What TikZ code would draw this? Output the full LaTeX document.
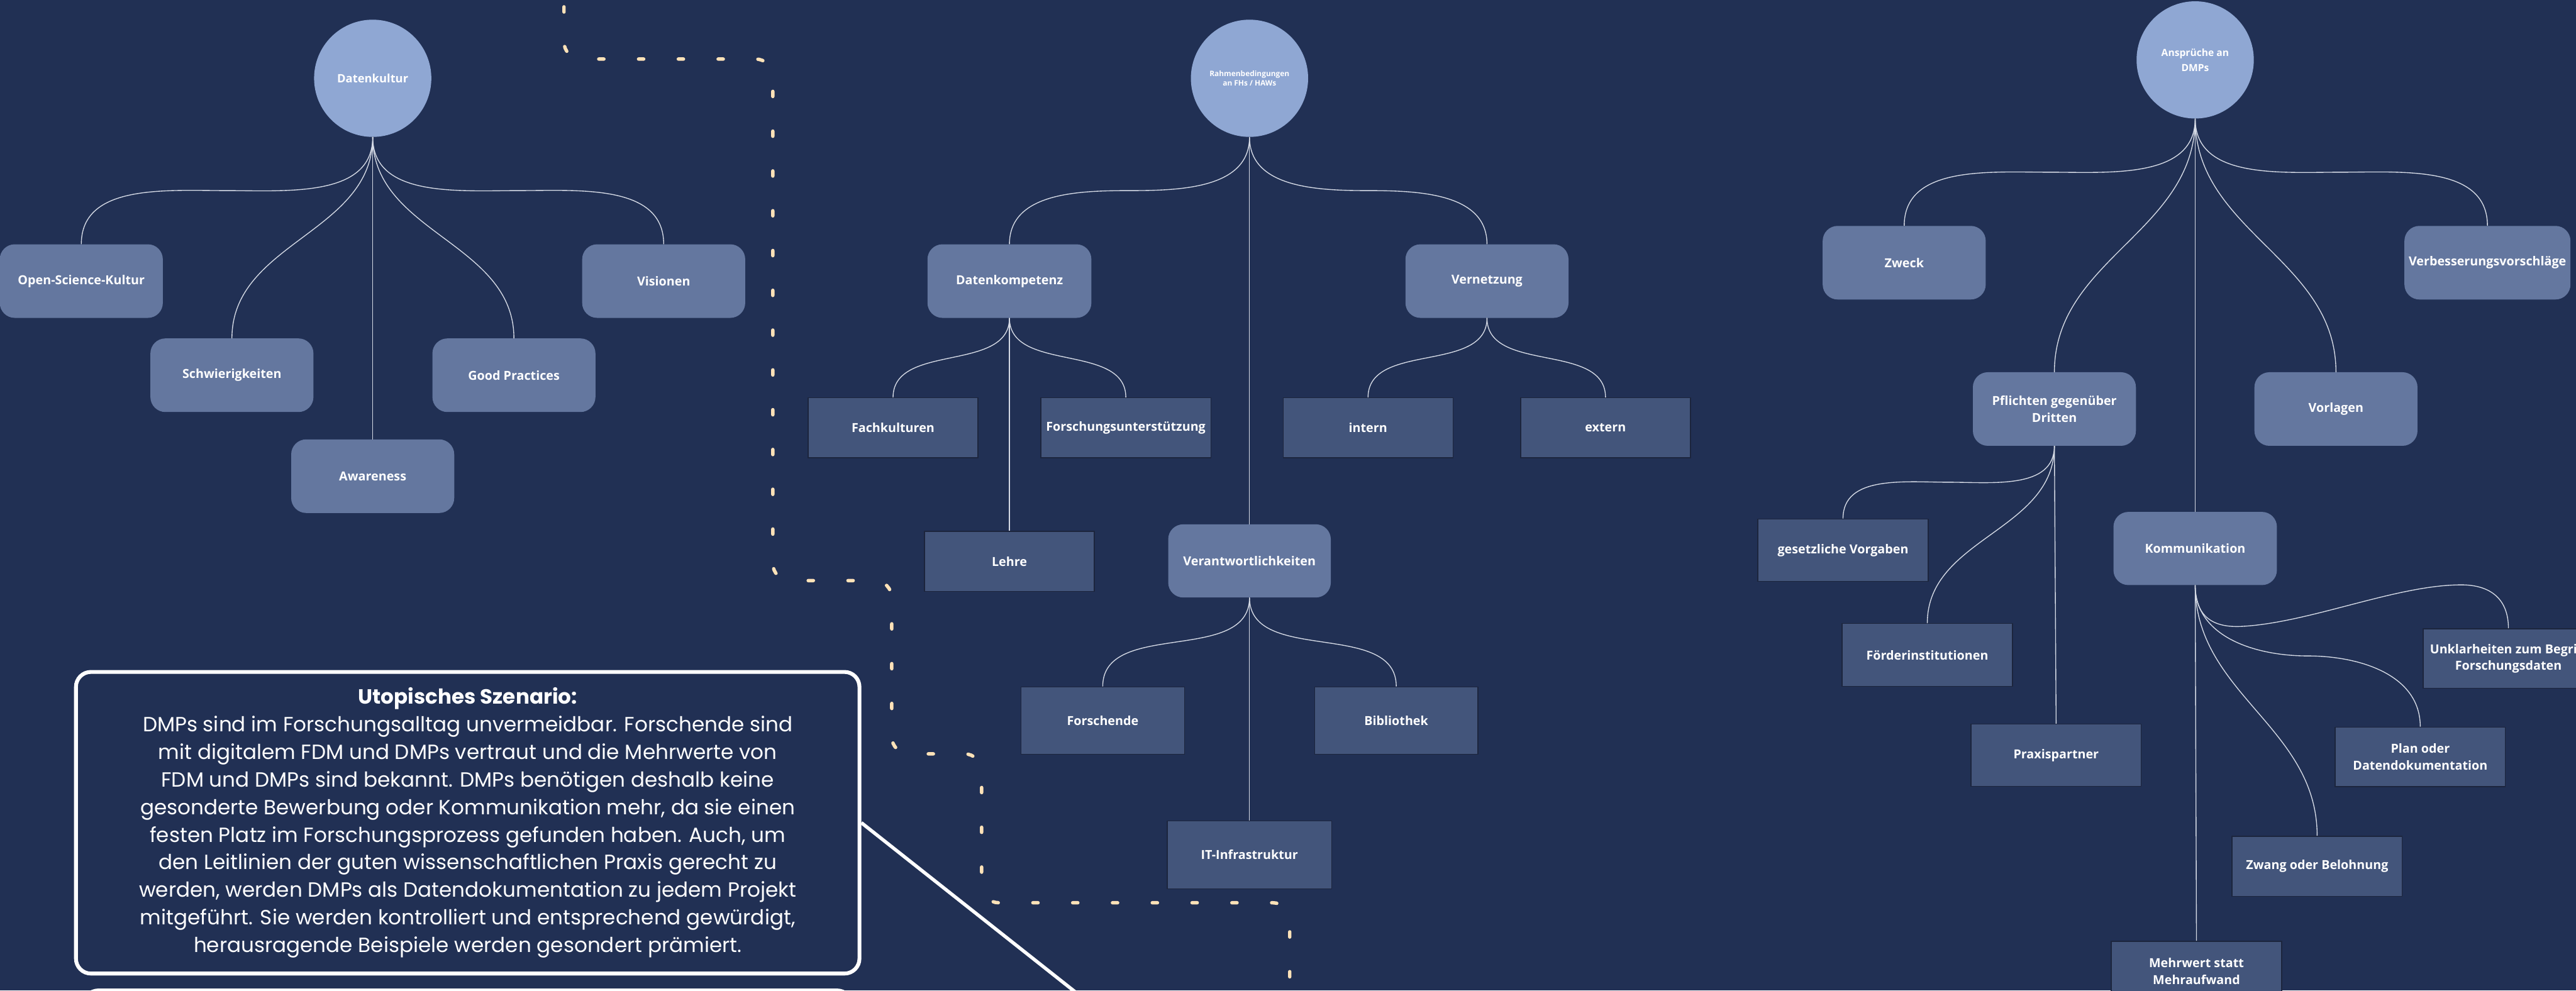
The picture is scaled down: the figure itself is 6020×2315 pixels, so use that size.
\documentclass[tikz,border=0pt]{standalone}
\usepackage{fontspec}
\setmainfont{Poppins}
\newfontfamily\nodefont{Open Sans}
\usetikzlibrary{calc}
\definecolor{bg}{HTML}{213054}
\definecolor{hubc}{HTML}{8FA7D3}
\definecolor{rboxc}{HTML}{64779F}
\definecolor{sboxc}{HTML}{43557B}
\definecolor{sedge}{HTML}{1C253D}
\definecolor{connc}{HTML}{D5DAE5}
\definecolor{dashc}{HTML}{FFE2B8}
\begin{document}
\begin{tikzpicture}[x=1pt,y=1pt,
  hub/.style={circle,fill=hubc,minimum size=274pt,inner sep=0pt,text=white,align=center},
  lbl/.style={font=\nodefont\bfseries\fontsize{29}{39}\selectfont},
  rbox/.style={lbl,rounded corners=35pt,fill=rboxc,minimum width=381pt,minimum height=172pt,inner sep=2pt,text=white,align=center},
  sbox/.style={lbl,fill=sboxc,draw=sedge,line width=2pt,minimum width=397pt,minimum height=140pt,inner sep=2pt,text=white,align=center},
  conn/.style={draw=connc,line width=2pt},
  dashline/.style={draw=dashc,line width=8pt,line cap=round,dash pattern=on 12pt off 81pt,dash phase=57pt},
  scen/.style={draw=white,line width=9pt,rounded corners=35pt},
]
\useasboundingbox (0,0) rectangle (6020,-2315);
\clip (0,0) rectangle (6020,-2315);
\fill[bg] (0,0) rectangle (6020,-2315);

% dashed path
\draw[dashline,rounded corners=40pt] (1318,20) -- (1318,-138) -- (1806,-138) -- (1806,-1357) -- (2084,-1357) -- (2084,-1762) -- (2294,-1762) -- (2294,-2110) -- (3014,-2110) -- (3014,-2400);

% Datenkultur group
\node[hub,font=\nodefont\bfseries\fontsize{27}{33}\selectfont] (dk) at (871,-183) {Datenkultur};
\node[rbox] (osk) at (190,-657) {Open-Science-Kultur};
\node[rbox] (vis) at (1551,-657) {Visionen};
\node[rbox] (sch) at (542,-877) {Schwierigkeiten};
\node[rbox] (gp) at (1201,-877) {Good Practices};
\node[rbox] (aw) at (871,-1113) {Awareness};

% Rahmenbedingungen group
\node[hub,font=\nodefont\bfseries\fontsize{17.5}{22}\selectfont] (rb) at (2920,-183) {Rahmenbedingungen\\an FHs / HAWs};
\node[rbox,minimum width=383pt] (dkomp) at (2359,-657) {Datenkompetenz};
\node[rbox] (vern) at (3475,-657) {Vernetzung};
\node[sbox] (fach) at (2087,-1000) {\raisebox{-18pt}{Fachkulturen}};
\node[sbox] (fu) at (2631,-1000) {Forschungsunterstützung};
\node[sbox] (int) at (3197,-1000) {intern};
\node[sbox] (ext) at (3752,-1000) {extern};
\node[sbox] (leh) at (2359,-1312) {Lehre};
\node[rbox,minimum width=380pt,minimum height=171pt] (ver) at (2920,-1311) {Verantwortlichkeiten};
\node[sbox,minimum width=382pt,minimum height=157pt] (fo) at (2577,-1684) {Forschende};
\node[sbox,minimum width=382pt,minimum height=157pt] (bib) at (3263,-1684) {Bibliothek};
\node[sbox,minimum width=384pt,minimum height=158pt] (it) at (2920,-1998) {IT-Infrastruktur};

% Ansprueche group
\node[hub,font=\nodefont\bfseries\fontsize{23}{35}\selectfont] (an) at (5130,-140) {Ansprüche an\\DMPs};
\node[rbox] (zw) at (4450,-614) {Zweck};
\node[rbox,minimum width=388pt] (vb) at (5813,-614) {Verbesserungsvorschläge};
\node[rbox] (pf) at (4801,-956) {Pflichten gegenüber\\Dritten};
\node[rbox] (vo) at (5459,-956) {Vorlagen};
\node[rbox,minimum width=382pt,minimum height=171pt] (ko) at (5130,-1282) {Kommunikation};
\node[sbox,minimum width=398pt,minimum height=146pt] (gv) at (4307,-1286) {gesetzliche Vorgaben};
\node[sbox,minimum width=398pt,minimum height=147pt] (fi) at (4504,-1531) {Förderinstitutionen};
\node[sbox,minimum width=398pt,minimum height=145pt] (pp) at (4805,-1765) {Praxispartner};
\node[sbox,minimum width=398pt,minimum height=139pt] (un) at (5862,-1539) {Unklarheiten zum Begriff\\Forschungsdaten};
\node[sbox,minimum width=398pt,minimum height=139pt] (pl) at (5656,-1769) {Plan oder\\Datendokumentation};
\node[sbox,minimum width=398pt,minimum height=141pt] (zb) at (5415,-2025) {Zwang oder Belohnung};
\node[sbox,minimum width=398pt,minimum height=140pt] (mw) at (5133,-2270) {Mehrwert statt\\Mehraufwand};

% connectors: Datenkultur
\draw[conn] (dk.south) to[out=-90,in=0] ($(dk.south)!.5!(osk.north)$) to[out=180,in=90] (osk.north);
\draw[conn] (dk.south) to[out=-90,in=90] (sch.north);
\draw[conn] (dk.south) -- (aw.north);
\draw[conn] (dk.south) to[out=-90,in=90] (gp.north);
\draw[conn] (dk.south) to[out=-90,in=180] ($(dk.south)!.5!(vis.north)$) to[out=0,in=90] (vis.north);

% connectors: Rahmenbedingungen
\draw[conn] (rb.south) to[out=-90,in=0] ($(rb.south)!.5!(dkomp.north)$) to[out=180,in=90] (dkomp.north);
\draw[conn] (rb.south) to[out=-90,in=180] ($(rb.south)!.5!(vern.north)$) to[out=0,in=90] (vern.north);
\draw[conn] (rb.south) -- (ver.north);
\draw[conn] (dkomp.south) to[out=-90,in=90] (fach.north);
\draw[conn] (dkomp.south) to[out=-90,in=90] (fu.north);
\draw[conn] (dkomp.south) -- (leh.north);
\draw[conn] (vern.south) to[out=-90,in=90] (int.north);
\draw[conn] (vern.south) to[out=-90,in=90] (ext.north);
\draw[conn] (ver.south) to[out=-90,in=90] (fo.north);
\draw[conn] (ver.south) to[out=-90,in=90] (bib.north);
\draw[conn] (ver.south) -- (it.north);

% connectors: Ansprueche
\draw[conn] (an.south) to[out=-90,in=0] ($(an.south)!.5!(zw.north)$) to[out=180,in=90] (zw.north);
\draw[conn] (an.south) to[out=-90,in=180] ($(an.south)!.5!(vb.north)$) to[out=0,in=90] (vb.north);
\draw[conn] (an.south) to[out=-90,in=90] (pf.north);
\draw[conn] (an.south) to[out=-90,in=90] (vo.north);
\draw[conn] (an.south) -- (ko.north);
\draw[conn] (pf.south) to[out=-90,in=0] ($(pf.south)!.5!(gv.north)$) to[out=180,in=90] (gv.north);
\draw[conn] (pf.south) to[out=-90,in=90] (fi.north);
\draw[conn] (pf.south) -- (pp.north);
\draw[conn] (ko.south) .. controls (5130,-1440) and (5170,-1468) .. (5240,-1464) .. controls (5400,-1455) and (5600,-1367) .. (5752,-1367) .. controls (5820,-1367) and (5862,-1400) .. (un.north);
\draw[conn] (ko.south) to[out=-90,in=180] ($(ko.south)!.5!(pl.north)$) to[out=0,in=90] (pl.north);
\draw[conn] (ko.south) to[out=-90,in=90] (zb.north);
\draw[conn] (ko.south) -- (mw.north);

% scenario box
\node[scen,minimum width=1831pt,minimum height=705pt,align=center,text=white,inner sep=0pt,font=\fontsize{48}{64.5}\selectfont] (tb) at (1093,-1923) {{\bfseries Utopisches Szenario:}\\
DMPs sind im Forschungsalltag unvermeidbar. Forschende sind\\
mit digitalem FDM und DMPs vertraut und die Mehrwerte von\\
FDM und DMPs sind bekannt. DMPs benötigen deshalb keine\\
gesonderte Bewerbung oder Kommunikation mehr, da sie einen\\
festen Platz im Forschungsprozess gefunden haben. Auch, um\\
den Leitlinien der guten wissenschaftlichen Praxis gerecht zu\\
werden, werden DMPs als Datendokumentation zu jedem Projekt\\
mitgeführt. Sie werden kontrolliert und entsprechend gewürdigt,\\
herausragende Beispiele werden gesondert prämiert.};
\node[scen,minimum width=1796pt,minimum height=600pt] (tb2) at (1093,-2615) {};
\coordinate (dend) at (2540,-2340);
\draw[white,line width=8pt] (tb.east) -- (dend);
\end{tikzpicture}
\end{document}
